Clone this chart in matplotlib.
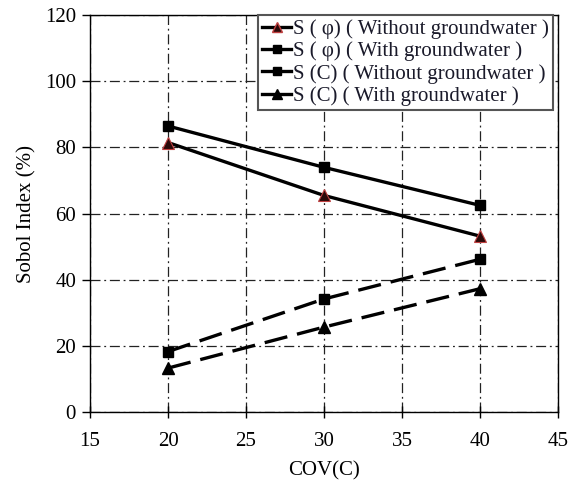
import matplotlib.pyplot as plt
from matplotlib.lines import Line2D

plt.rcParams['font.family'] = ['Liberation Serif', 'DejaVu Serif']

cov = [20, 30, 40]
phi_without_gw = [81.5, 65.5, 53.2]
phi_with_gw = [86.5, 74.0, 62.5]
c_without_gw = [18.3, 34.2, 46.2]
c_with_gw = [13.3, 25.7, 37.3]

labels = ['S ( \u03c6) ( Without groundwater )',
          'S ( \u03c6) ( With groundwater )',
          'S (C) ( Without groundwater )',
          'S (C) ( With groundwater )']

fig = plt.figure(figsize=(5.77, 4.90), dpi=100)
ax = fig.add_axes([0.156, 0.159, 0.811, 0.810])

dash = (0, (7, 3))
ax.plot(cov, phi_without_gw, color='black', lw=2.4, marker='^', ms=8,
        mfc='#2b0a0a', mec='#c04040', mew=0.8, zorder=3)
ax.plot(cov, phi_with_gw, color='black', lw=2.4, marker='s', ms=6.5, zorder=3)
ax.plot(cov, c_without_gw, color='black', lw=2.4, ls=dash, marker='s', ms=6.5, zorder=3)
ax.plot(cov, c_with_gw, color='black', lw=2.4, ls=dash, marker='^', ms=8, zorder=3)

ax.set_xlim(15, 45)
ax.set_ylim(0, 120)
ax.set_xticks(range(15, 46, 5))
ax.set_yticks(range(0, 121, 20))
ax.grid(True, color='#222222', lw=0.9, ls=(0, (8, 3, 1.5, 3)))
ax.tick_params(labelsize=15, direction='out', length=6, width=1, pad=4)
ax.tick_params(axis='x', direction='inout', length=8, pad=10)
for s in ax.spines.values():
    s.set_linewidth(1.0)

ax.set_xlabel('COV(C)', fontsize=15, labelpad=8)
ax.set_ylabel('Sobol Index (%)', fontsize=15, labelpad=6)

handles = [
    Line2D([], [], color='black', lw=2.4, marker='^', ms=7, mfc='#2b0a0a', mec='#c04040'),
    Line2D([], [], color='black', lw=2.4, marker='s', ms=6),
    Line2D([], [], color='black', lw=2.4, marker='s', ms=6),
    Line2D([], [], color='black', lw=2.4, marker='^', ms=7),
]
leg = ax.legend(handles, labels, loc='upper right', bbox_to_anchor=(0.99, 1.0),
                fontsize=15, handlelength=1.4, handletextpad=0.1,
                labelspacing=0.12, borderpad=0.2, borderaxespad=0.0,
                fancybox=False, framealpha=1, edgecolor='#555555')
leg.get_frame().set_linewidth(1.5)
for t in leg.get_texts():
    t.set_color('#1a1a2a')

fig.savefig('out.png', dpi=100)
